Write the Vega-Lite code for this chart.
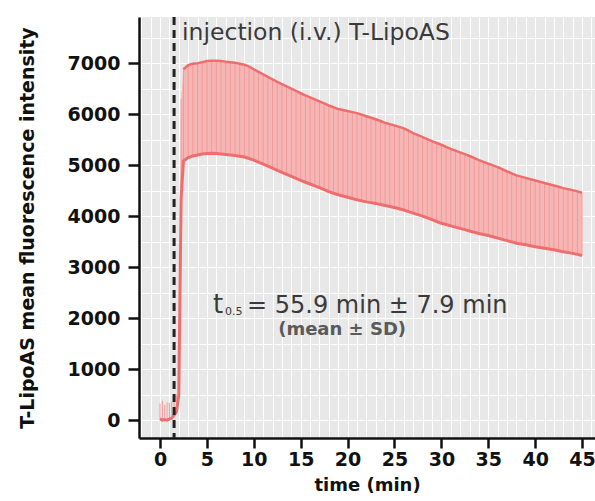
{
  "$schema": "https://vega.github.io/schema/vega-lite/v6.json",
  "width": 456,
  "height": 421,
  "autosize": {"type": "none"},
  "padding": {"left": 139, "top": 17, "right": 0, "bottom": 63},
  "background": "white",
  "config": {
    "view": {"fill": "#e8e8e8", "stroke": null},
    "axis": {
      "labelFont": "DejaVu Sans", "labelFontWeight": "bold", "labelFontSize": 19, "labelColor": "#111",
      "titleFont": "DejaVu Sans", "titleFontWeight": "bold", "titleFontSize": 18, "titleColor": "#111",
      "domainColor": "#111", "domainWidth": 2.5, "tickColor": "#111", "tickWidth": 2.5,
      "gridColor": "white", "gridWidth": 1, "gridOpacity": 1
    }
  },
  "datasets": {
    "series": [
      {"t": 0.0, "m": 30, "u": 330},
      {"t": 0.25, "m": 0, "u": 380},
      {"t": 0.5, "m": 10, "u": 300},
      {"t": 0.75, "m": 0, "u": 350},
      {"t": 1.0, "m": 20, "u": 340},
      {"t": 1.25, "m": 40, "u": 360},
      {"t": 1.5, "m": 100, "u": 420},
      {"t": 1.75, "m": 160, "u": 500},
      {"t": 2.0, "m": 480, "u": 1000},
      {"t": 2.25, "m": 4350, "u": 6300},
      {"t": 2.5, "m": 5080, "u": 6880},
      {"t": 3.0, "m": 5150, "u": 6960},
      {"t": 3.5, "m": 5180, "u": 6990},
      {"t": 4.0, "m": 5200, "u": 7000},
      {"t": 4.5, "m": 5220, "u": 7020},
      {"t": 5.0, "m": 5230, "u": 7040},
      {"t": 5.5, "m": 5235, "u": 7045},
      {"t": 6.0, "m": 5230, "u": 7045},
      {"t": 6.5, "m": 5220, "u": 7040},
      {"t": 7.0, "m": 5210, "u": 7030},
      {"t": 7.5, "m": 5200, "u": 7020},
      {"t": 8.0, "m": 5190, "u": 7010},
      {"t": 8.5, "m": 5175, "u": 6990},
      {"t": 9.0, "m": 5160, "u": 6970},
      {"t": 9.5, "m": 5130, "u": 6930},
      {"t": 10.0, "m": 5100, "u": 6880},
      {"t": 10.5, "m": 5060, "u": 6830},
      {"t": 11.0, "m": 5020, "u": 6780},
      {"t": 11.5, "m": 4980, "u": 6730},
      {"t": 12.0, "m": 4940, "u": 6680},
      {"t": 12.5, "m": 4900, "u": 6635},
      {"t": 13.0, "m": 4860, "u": 6590},
      {"t": 13.5, "m": 4820, "u": 6545},
      {"t": 14.0, "m": 4780, "u": 6500},
      {"t": 14.5, "m": 4740, "u": 6455},
      {"t": 15.0, "m": 4700, "u": 6410},
      {"t": 15.5, "m": 4665, "u": 6370},
      {"t": 16.0, "m": 4630, "u": 6330},
      {"t": 16.5, "m": 4595, "u": 6290},
      {"t": 17.0, "m": 4560, "u": 6250},
      {"t": 17.5, "m": 4520, "u": 6210},
      {"t": 18.0, "m": 4480, "u": 6170},
      {"t": 18.5, "m": 4450, "u": 6135},
      {"t": 19.0, "m": 4420, "u": 6100},
      {"t": 19.5, "m": 4395, "u": 6080},
      {"t": 20.0, "m": 4370, "u": 6060},
      {"t": 20.5, "m": 4345, "u": 6040},
      {"t": 21.0, "m": 4320, "u": 6020},
      {"t": 21.5, "m": 4300, "u": 5990},
      {"t": 22.0, "m": 4280, "u": 5960},
      {"t": 22.5, "m": 4265, "u": 5930},
      {"t": 23.0, "m": 4250, "u": 5900},
      {"t": 23.5, "m": 4230, "u": 5865},
      {"t": 24.0, "m": 4210, "u": 5830},
      {"t": 24.5, "m": 4190, "u": 5805},
      {"t": 25.0, "m": 4170, "u": 5780},
      {"t": 25.5, "m": 4145, "u": 5750},
      {"t": 26.0, "m": 4120, "u": 5720},
      {"t": 26.5, "m": 4090, "u": 5675},
      {"t": 27.0, "m": 4060, "u": 5630},
      {"t": 27.5, "m": 4030, "u": 5590},
      {"t": 28.0, "m": 4000, "u": 5550},
      {"t": 28.5, "m": 3965, "u": 5510},
      {"t": 29.0, "m": 3930, "u": 5470},
      {"t": 29.5, "m": 3895, "u": 5435},
      {"t": 30.0, "m": 3860, "u": 5400},
      {"t": 30.5, "m": 3835, "u": 5360},
      {"t": 31.0, "m": 3810, "u": 5320},
      {"t": 31.5, "m": 3785, "u": 5285},
      {"t": 32.0, "m": 3760, "u": 5250},
      {"t": 32.5, "m": 3735, "u": 5215},
      {"t": 33.0, "m": 3710, "u": 5180},
      {"t": 33.5, "m": 3685, "u": 5140},
      {"t": 34.0, "m": 3660, "u": 5100},
      {"t": 34.5, "m": 3640, "u": 5065},
      {"t": 35.0, "m": 3620, "u": 5030},
      {"t": 35.5, "m": 3595, "u": 4995},
      {"t": 36.0, "m": 3570, "u": 4960},
      {"t": 36.5, "m": 3545, "u": 4920},
      {"t": 37.0, "m": 3520, "u": 4880},
      {"t": 37.5, "m": 3495, "u": 4840},
      {"t": 38.0, "m": 3470, "u": 4800},
      {"t": 38.5, "m": 3455, "u": 4775},
      {"t": 39.0, "m": 3440, "u": 4750},
      {"t": 39.5, "m": 3420, "u": 4725},
      {"t": 40.0, "m": 3400, "u": 4700},
      {"t": 40.5, "m": 3385, "u": 4675},
      {"t": 41.0, "m": 3370, "u": 4650},
      {"t": 41.5, "m": 3355, "u": 4625},
      {"t": 42.0, "m": 3340, "u": 4600},
      {"t": 42.5, "m": 3320, "u": 4575},
      {"t": 43.0, "m": 3300, "u": 4550},
      {"t": 43.5, "m": 3285, "u": 4530},
      {"t": 44.0, "m": 3270, "u": 4510},
      {"t": 44.5, "m": 3250, "u": 4485},
      {"t": 45.0, "m": 3230, "u": 4460}
    ]
  },
  "encoding": {
    "x": {
      "field": "t", "type": "quantitative",
      "scale": {"domain": [-2.24, 46.38], "nice": false, "zero": false},
      "axis": {
        "title": "time (min)",
        "values": [-2, -1, 0, 1, 2, 3, 4, 5, 6, 7, 8, 9, 10, 11, 12, 13, 14, 15, 16, 17, 18, 19, 20, 21, 22, 23, 24, 25, 26, 27, 28, 29, 30, 31, 32, 33, 34, 35, 36, 37, 38, 39, 40, 41, 42, 43, 44, 45, 46],
        "labelExpr": "(datum.value % 5 === 0 && datum.value >= 0) ? datum.label : ''",
        "tickOpacity": {"condition": {"test": "datum.value % 5 === 0 && datum.value >= 0", "value": 1}, "value": 0},
        "tickSize": 10, "labelPadding": 2, "titlePadding": 7, "labelFlush": false, "labelOverlap": false
      }
    },
    "y": {
      "field": "m", "type": "quantitative",
      "scale": {"domain": [-350, 7905], "nice": false, "zero": false},
      "axis": {
        "title": "T-LipoAS mean fluorescence intensity",
        "titleFontSize": 19,
        "values": [0, 500, 1000, 1500, 2000, 2500, 3000, 3500, 4000, 4500, 5000, 5500, 6000, 6500, 7000, 7500],
        "labelExpr": "datum.value % 1000 === 0 ? datum.label : ''",
        "format": "d",
        "tickOpacity": {"condition": {"test": "datum.value % 1000 === 0", "value": 1}, "value": 0},
        "tickSize": 11, "labelPadding": 8, "titlePadding": 30, "labelOverlap": false, "labelFlush": false
      }
    }
  },
  "layer": [
    {
      "data": {"name": "series"},
      "transform": [{"filter": "datum.t >= 2.0"}],
      "mark": {"type": "area", "color": "#f7b6b6", "opacity": 1},
      "encoding": {"y2": {"field": "u"}}
    },
    {
      "data": {"name": "series"},
      "mark": {"type": "rule", "color": "#f09a9a", "strokeWidth": 1},
      "encoding": {"y2": {"field": "u"}}
    },
    {
      "data": {"name": "series"},
      "transform": [{"filter": "datum.t >= 2.5"}],
      "mark": {"type": "line", "color": "#ee6e6e", "strokeWidth": 2.5},
      "encoding": {"y": {"field": "u", "type": "quantitative"}}
    },
    {
      "data": {"name": "series"},
      "mark": {"type": "line", "color": "#ee6e6e", "strokeWidth": 3},
      "encoding": {}
    },
    {
      "data": {"values": [{"x": 1.5}]},
      "mark": {"type": "rule", "color": "#222", "strokeWidth": 3, "strokeDash": [8, 5]},
      "encoding": {"x": {"field": "x", "type": "quantitative"}, "y": null}
    },
    {
      "data": {"values": [{"x": 2.35, "y": 7450, "label": "injection (i.v.) T-LipoAS"}]},
      "mark": {"type": "text", "align": "left", "baseline": "alphabetic", "font": "DejaVu Sans", "fontSize": 23.5, "color": "#3a3a3a"},
      "encoding": {"x": {"field": "x", "type": "quantitative"}, "y": {"field": "y", "type": "quantitative"}, "text": {"field": "label"}}
    },
    {
      "data": {"values": [{"x": 5.65, "y": 2098, "label": "t"}]},
      "mark": {"type": "text", "align": "left", "baseline": "alphabetic", "font": "DejaVu Sans", "fontSize": 26, "color": "#3a3a3a"},
      "encoding": {"x": {"field": "x", "type": "quantitative"}, "y": {"field": "y", "type": "quantitative"}, "text": {"field": "label"}}
    },
    {
      "data": {"values": [{"x": 6.93, "y": 2060, "label": "0.5"}]},
      "mark": {"type": "text", "align": "left", "baseline": "alphabetic", "font": "DejaVu Sans", "fontSize": 11, "color": "#3a3a3a"},
      "encoding": {"x": {"field": "x", "type": "quantitative"}, "y": {"field": "y", "type": "quantitative"}, "text": {"field": "label"}}
    },
    {
      "data": {"values": [{"x": 9.28, "y": 2098, "label": "= 55.9 min ± 7.9 min"}]},
      "mark": {"type": "text", "align": "left", "baseline": "alphabetic", "font": "DejaVu Sans", "fontSize": 24, "color": "#3a3a3a"},
      "encoding": {"x": {"field": "x", "type": "quantitative"}, "y": {"field": "y", "type": "quantitative"}, "text": {"field": "label"}}
    },
    {
      "data": {"values": [{"x": 12.6, "y": 1667, "label": "(mean ± SD)"}]},
      "mark": {"type": "text", "align": "left", "baseline": "alphabetic", "font": "DejaVu Sans", "fontSize": 18, "fontWeight": "bold", "color": "#5a5a5a"},
      "encoding": {"x": {"field": "x", "type": "quantitative"}, "y": {"field": "y", "type": "quantitative"}, "text": {"field": "label"}}
    }
  ]
}
